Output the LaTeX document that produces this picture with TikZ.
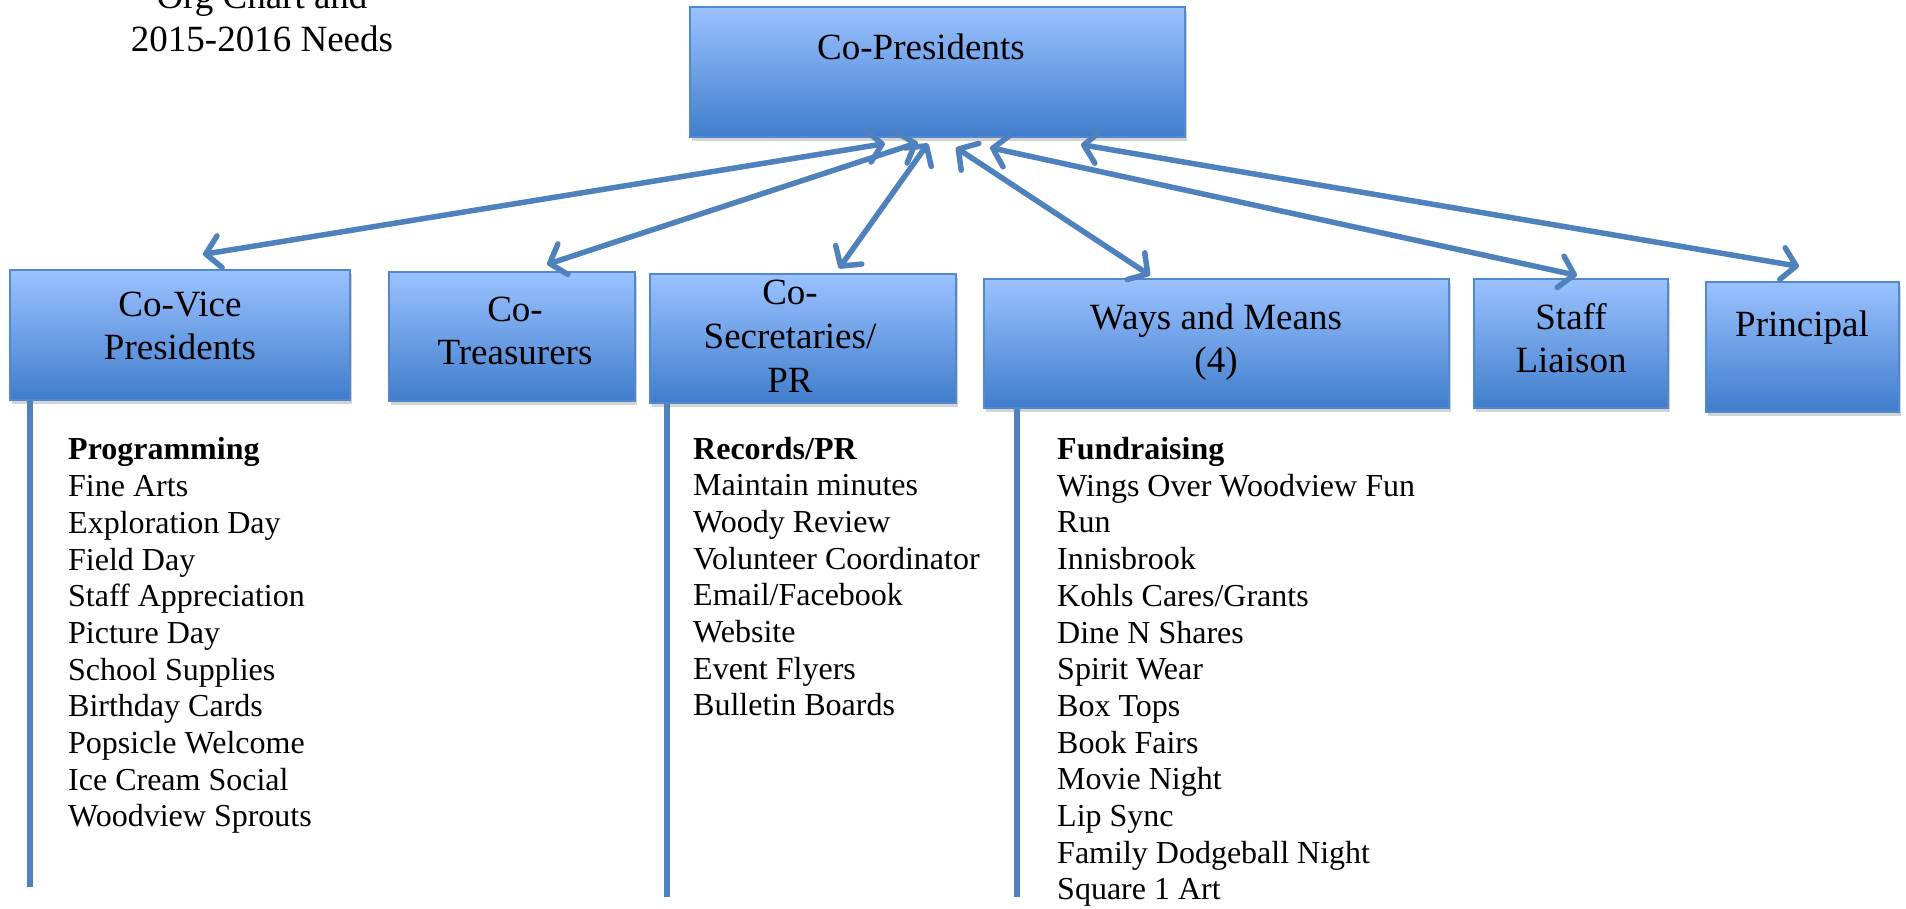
\documentclass[tikz,border=0pt]{standalone}
\usepackage{fontspec}
\setmainfont{Liberation Serif}
\usetikzlibrary{arrows.meta,calc,positioning,shadows}
\definecolor{boxtop}{RGB}{155,194,255}
\definecolor{boxbot}{RGB}{64,125,204}
\definecolor{boxline}{RGB}{84,136,204}
\definecolor{linkblue}{RGB}{79,129,189}
\tikzset{
    orgbox/.style={rectangle,draw=boxline,line width=1.2pt,top color=boxtop,bottom color=boxbot,
        inner sep=0pt,drop shadow={shadow xshift=1.5pt,shadow yshift=-4pt,opacity=0.35}},
    boxtext/.style={align=center,font=\fontsize{37}{43}\selectfont,inner sep=0pt,anchor=base},
    itemlist/.style={align=left,font=\fontsize{32}{36.7}\selectfont,inner sep=0pt,anchor=base west},
    link/.style={draw=linkblue,line width=5.5pt,>={Straight Barb[length=14pt,width=32pt,round]},<->},
    stem/.style={draw=linkblue,line width=6pt}
}

\begin{document}
\begin{tikzpicture}[x=1pt,y=1pt]
    \useasboundingbox (0,0) rectangle (1906,909);

    % 标题 (base = 最后一行)
    \node[boxtext] (title) at (262,857) {Org Chart and\\2015-2016 Needs};

    % 方框
    \node[orgbox,minimum width=495pt,minimum height=130pt] (pres) at (937.5,837) {};
    \node[orgbox,minimum width=340pt,minimum height=130pt] (vp) at (180,574) {};
    \node[orgbox,minimum width=246pt,minimum height=129pt] (tr) at (512,572.5) {};
    \node[orgbox,minimum width=306pt,minimum height=129pt] (sec) at (803,570.5) {};
    \node[orgbox,minimum width=465pt,minimum height=129pt] (wm) at (1216.5,565.5) {};
    \node[orgbox,minimum width=194pt,minimum height=129pt] (sl) at (1571,565.5) {};
    \node[orgbox,minimum width=193pt,minimum height=130pt] (pr) at (1802.5,562) {};

    % 方框里的字
    \node[boxtext] (pres-t) at (921,849) {Co-Presidents};
    \node[boxtext] (vp-t) at (180,549) {Co-Vice\\Presidents};
    \node[boxtext] (tr-t) at (515,544) {Co-\\Treasurers};
    \node[boxtext] (sec-t) at (790,516) {Co-\\[1pt]Secretaries/\\[1pt]PR};
    \node[boxtext] (wm-t) at (1216,536) {Ways and Means\\(4)};
    \node[boxtext] (sl-t) at (1571,536) {Staff\\Liaison};
    \node[boxtext] (pr-t) at (1802,572) {Principal};

    % 双向箭头
    \draw[link] ([shift={(23,15)}]vp.north) -- ([shift={(-52.5,-6)}]pres.south);
    \draw[link] ([shift={(35,7)}]tr.north) -- ([shift={(-19.5,-5)}]pres.south);
    \draw[link] ([shift={(36,5)}]sec.north) -- ([shift={(-9.5,-6)}]pres.south);
    \draw[link] ([shift={(-66.5,3)}]wm.north) -- ([shift={(18.5,-10)}]pres.south);
    \draw[link] ([shift={(6,3)}]sl.north) -- ([shift={(52.5,-10)}]pres.south);
    \draw[link] ([shift={(-3.5,15)}]pr.north) -- ([shift={(143.5,-7)}]pres.south);

    % 竖线
    \coordinate (vp-end) at (30,22);
    \coordinate (sec-end) at (667,12);
    \coordinate (wm-end) at (1017,12);
    \draw[stem] (vp.south -| vp-end) -- (vp-end);
    \draw[stem] (sec.south -| sec-end) -- (sec-end);
    \draw[stem] (wm.south -| wm-end) -- (wm-end);

    % 列表 (base = 最后一行)
    \node[itemlist] (prog) at (68,82) {\textbf{Programming}\\Fine Arts\\Exploration Day\\Field Day\\
        Staff Appreciation\\Picture Day\\School Supplies\\Birthday Cards\\Popsicle Welcome\\
        Ice Cream Social\\Woodview Sprouts};
    \node[itemlist] (rec) at (693,193) {\textbf{Records/PR}\\Maintain minutes\\Woody Review\\
        Volunteer Coordinator\\Email/Facebook\\Website\\Event Flyers\\Bulletin Boards};
    \node[itemlist] (fund) at (1057,9) {\textbf{Fundraising}\\Wings Over Woodview Fun\\Run\\
        Innisbrook\\Kohls Cares/Grants\\Dine N Shares\\Spirit Wear\\Box Tops\\Book Fairs\\
        Movie Night\\Lip Sync\\Family Dodgeball Night\\Square 1 Art};
\end{tikzpicture}
\end{document}
